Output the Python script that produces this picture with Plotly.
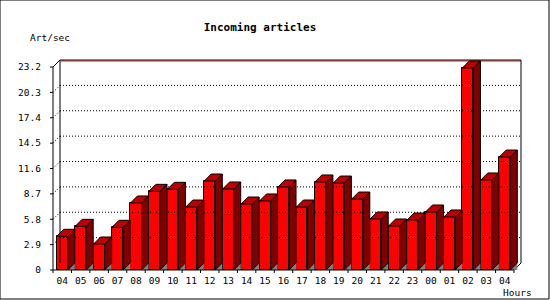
import plotly.graph_objects as go

hours = ["04", "05", "06", "07", "08", "09", "10", "11", "12", "13", "14", "15", "16",
         "17", "18", "19", "20", "21", "22", "23", "00", "01", "02", "03", "04"]
rate = [3.85, 4.99, 2.97, 4.88, 7.66, 8.99, 9.22, 7.2, 10.17, 9.26, 7.54, 7.89, 9.49,
        7.2, 10.06, 9.94, 8.11, 5.83, 5.03, 5.71, 6.63, 6.06, 23.09, 10.29, 12.91]
y_ticks = [0, 2.9, 5.8, 8.7, 11.6, 14.5, 17.4, 20.3, 23.2]
y_tick_text = ["0", "2.9", "5.8", "8.7", "11.6", "14.5", "17.4", "20.3", "23.2"]

FONT = "DejaVu Sans Mono"
W, H = 550, 300
n = len(hours)
ymax = y_ticks[-1]
# pixel scale (px per data unit) and 3D depth
sx = 18.44
sy = 203 / ymax
dx = 7 / sx
dy = 7 / sy
bw = 0.6
x0, x1 = -0.5, n - 0.5

xs = list(range(n))
fig = go.Figure()


def poly(points_list):
    px, py = [], []
    for pts in points_list:
        for p in pts:
            px.append(p[0]); py.append(p[1])
        px.append(pts[0][0]); py.append(pts[0][1])
        px.append(None); py.append(None)
    return px, py


def seg(segs, color, width=1, dash="solid"):
    px, py = [], []
    for (a, b) in segs:
        px += [a[0], b[0], None]
        py += [a[1], b[1], None]
    fig.add_trace(go.Scatter(x=px, y=py, mode="lines", line=dict(color=color, width=width, dash=dash),
                             hoverinfo="skip", showlegend=False))


# back-wall dotted grid lines
seg([((x0 + dx, v + dy), (x1 + dx, v + dy)) for v in y_ticks[1:-1]], "black", 1, "1px,2px")
# left wall dotted lines
seg([((x0, v), (x0 + dx, v + dy)) for v in y_ticks[1:-1]], "black", 1, "1px,2px")
# back frame
seg([((x0 + dx, dy), (x0 + dx, ymax + dy)),
     ((x1 + dx, dy), (x1 + dx, ymax + dy)),
     ((x1 + dx, dy), (x1, 0))], "black", 1)
seg([((x0 + dx + 0.02, ymax + dy - 1 / sy), (x1 + dx, ymax + dy - 1 / sy))], "#ff0000", 1)
seg([((x0 + dx, ymax + dy), (x1 + dx, ymax + dy)),
     ((x0, ymax), (x0 + dx, ymax + dy))], "black", 1)

# floor shadows
tri = [[(i + bw / 2, 0), (i + bw / 2 + dx, dy), (i + bw / 2 + dx, 0)] for i in xs]
px, py = poly(tri)
fig.add_trace(go.Scatter(x=px, y=py, mode="lines", fill="toself", fillcolor="#808080",
                         line=dict(color="#808080", width=0), hoverinfo="skip", showlegend=False))

# sides
sides = [[(i + bw / 2, 0), (i + bw / 2 + dx, dy), (i + bw / 2 + dx, v + dy), (i + bw / 2, v)]
         for i, v in zip(xs, rate)]
px, py = poly(sides)
fig.add_trace(go.Scatter(x=px, y=py, mode="lines", fill="toself", fillcolor="#800000",
                         line=dict(color="black", width=1), hoverinfo="skip", showlegend=False))
# tops
tops = [[(i - bw / 2, v), (i + bw / 2, v), (i + bw / 2 + dx, v + dy), (i - bw / 2 + dx, v + dy)]
        for i, v in zip(xs, rate)]
px, py = poly(tops)
fig.add_trace(go.Scatter(x=px, y=py, mode="lines", fill="toself", fillcolor="#c00000",
                         line=dict(color="black", width=1), hoverinfo="skip", showlegend=False))
# front faces
fig.add_trace(go.Bar(x=xs, y=rate, width=bw, marker=dict(color="#ff0000", line=dict(color="black", width=1)),
                     hoverinfo="skip", showlegend=False))

# front frame
seg([((x0, 0), (x0, ymax)), ((x0, 0), (x1, 0))], "black", 1)
# y tick marks
seg([((x0 - 3 / sx, v), (x0, v)) for v in y_ticks], "black", 1)
# x tick marks at boundaries
seg([((b - 0.5, 0), (b - 0.5, -3 / sy)) for b in range(n + 1)], "black", 1)

fig.update_layout(
    width=W, height=H,
    margin=dict(l=50, r=28, t=59, b=27),
    paper_bgcolor="white", plot_bgcolor="white",
    bargap=0,
    font=dict(family=FONT, size=9.5, color="black"),
    title=dict(text="<b>Incoming articles</b>", x=260 / W, xanchor="center", xref="container",
               y=1 - 27 / H, yanchor="middle", yref="container",
               font=dict(family=FONT, size=11, color="black")),
    xaxis=dict(range=[x0 - 3 / sx, x1 + dx + 1 / sx], showgrid=False, zeroline=False, showline=False,
               tickmode="array", tickvals=xs, ticktext=hours, ticks="", tickfont=dict(size=9.5)),
    yaxis=dict(range=[-3 / sy, (270 - 59) / sy], showgrid=False, zeroline=False, showline=False,
               tickmode="array", tickvals=y_ticks, ticktext=y_tick_text, ticks="",
               ticklabelstandoff=8, tickfont=dict(size=9.5)),
    shapes=[dict(type="rect", xref="paper", yref="paper", x0=-50 / 472, x1=(549 - 50) / 472,
                 y0=-(299 - 273) / 214, y1=(273 - 0) / 214, line=dict(color="black", width=1))],
    annotations=[
        dict(text="Art/sec", xref="paper", yref="paper", x=(28 - 50) / 472, y=(273 - 37.5) / 214,
             xanchor="left", yanchor="middle", showarrow=False, font=dict(size=9.5)),
        dict(text="Hours", xref="paper", yref="paper", x=(534 - 50) / 472, y=(273 - 292) / 214,
             xanchor="right", yanchor="middle", showarrow=False, font=dict(size=9.5)),
    ],
)

fig.write_html("out.html")
